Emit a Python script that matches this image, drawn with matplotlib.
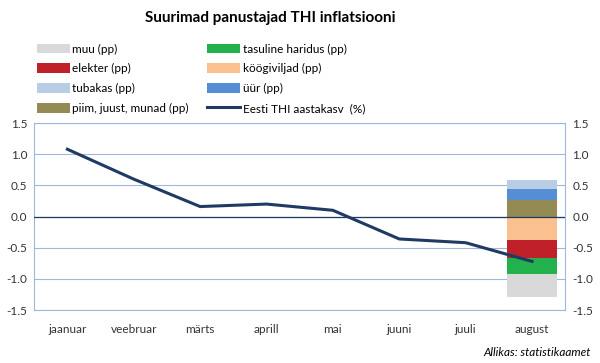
import numpy as np
import matplotlib.pyplot as plt

plt.rcParams['font.family'] = ['Lato', 'DejaVu Sans']

kuud = ['jaanuar', 'veebruar', 'märts', 'aprill', 'mai', 'juuni', 'juuli', 'august']
thi = [1.08, 0.60, 0.16, 0.20, 0.10, -0.36, -0.42, -0.72]

# panused augustis (pp)
pos_nimed = ['piim, juust, munad (pp)', 'üür (pp)', 'tubakas (pp)']
pos_vaartused = [0.26, 0.18, 0.15]
pos_varvid = ['#948A54', '#558ED5', '#B9CDE5']

neg_nimed = ['köögiviljad (pp)', 'elekter (pp)', 'tasuline haridus (pp)', 'muu (pp)']
neg_vaartused = [-0.37, -0.29, -0.26, -0.37]
neg_varvid = ['#FAC090', '#C0202A', '#22B14C', '#D9D9D9']

joone_varv = '#1F3B63'
raam = '#9CB8DC'

fig = plt.figure(figsize=(6, 3.63), dpi=100)
ax = fig.add_axes([0.057, 0.146, 0.885, 0.515])

x = np.arange(len(kuud))
xa = x[-1]
handles = {}
alus = 0
for n, v, c in zip(pos_nimed, pos_vaartused, pos_varvid):
    handles[n] = ax.bar(xa, v, bottom=alus, width=0.76, color=c, zorder=2)
    alus += v
alus = 0
for n, v, c in zip(neg_nimed, neg_vaartused, neg_varvid):
    handles[n] = ax.bar(xa, v, bottom=alus, width=0.76, color=c, zorder=2)
    alus += v

ax.axhline(0, color=joone_varv, lw=0.9, zorder=3)
line, = ax.plot(x, thi, color=joone_varv, lw=2.2, zorder=4)
handles['Eesti THI aastakasv  (%)'] = line

ax.set_xlim(-0.5, len(kuud) - 0.5)
ax.set_ylim(-1.5, 1.5)
ax.set_yticks(np.arange(-1.5, 1.51, 0.5))
ax.set_yticklabels([f'{t:.1f}' for t in np.arange(-1.5, 1.51, 0.5)])
ax.set_xticks(x)
ax.set_xticklabels(kuud)
ax.grid(axis='y', color=raam, lw=0.8, zorder=0)
for s in ax.spines.values():
    s.set_color(raam)
ax.tick_params(length=0, labelsize=8.5, colors='#333333', pad=10)
ax.tick_params(axis='y', labelright=True, pad=5)

jarjekord = ['muu (pp)', 'elekter (pp)', 'tubakas (pp)', 'piim, juust, munad (pp)',
             'tasuline haridus (pp)', 'köögiviljad (pp)', 'üür (pp)', 'Eesti THI aastakasv  (%)']
fig.legend([handles[k] for k in jarjekord], jarjekord, ncol=2, frameon=False,
           loc='upper left', bbox_to_anchor=(0.053, 0.893), fontsize=8.5,
           handlelength=2.8, handleheight=0.9, handletextpad=0.2,
           columnspacing=1.6, labelspacing=0.74, borderaxespad=0)

fig.text(0.45, 0.95, 'Suurimad panustajad THI inflatsiooni', ha='center', va='center',
         fontsize=11, fontweight='bold')
fig.text(0.985, 0.03, 'Allikas: statistikaamet', ha='right', va='center',
         fontsize=8.5, style='italic')

fig.savefig('out.png', dpi=100)
